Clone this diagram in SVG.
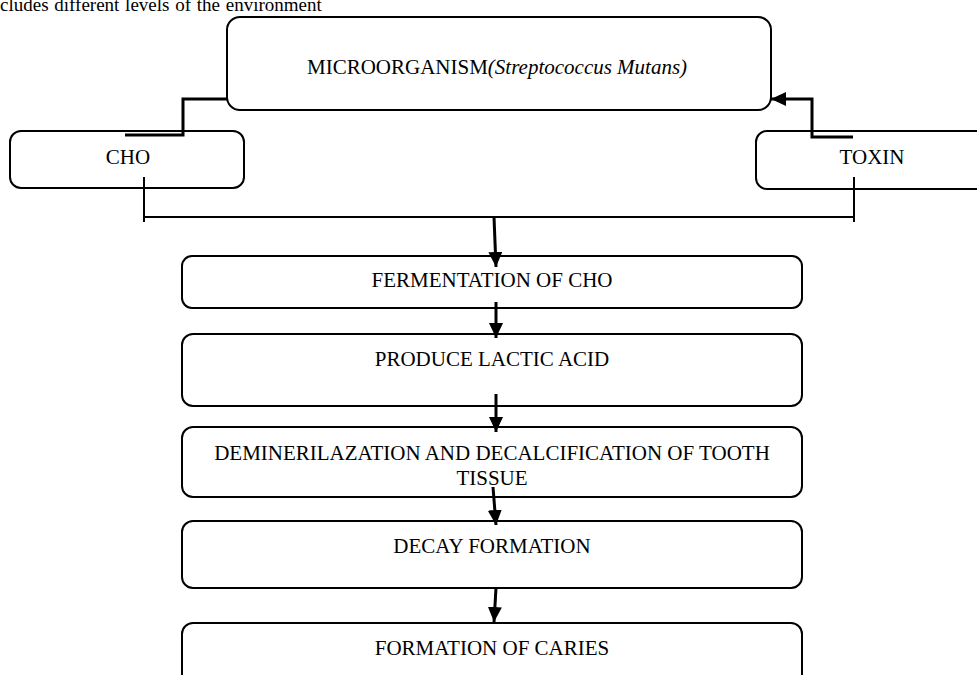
<svg xmlns="http://www.w3.org/2000/svg" width="977" height="675" viewBox="0 0 977 675">
<style>
.box{fill:#fff;stroke:#000;stroke-width:2}
.t{font-family:"Liberation Serif","Times New Roman",serif;font-size:21px;fill:#000;text-anchor:middle}
.body{font-family:"Liberation Serif","Times New Roman",serif;font-size:19px;fill:#000}
.thick{fill:none;stroke:#000;stroke-width:3}
.thin{fill:none;stroke:#000;stroke-width:2}
</style>
<defs>
<marker id="ah" viewBox="0 0 15 14" refX="15" refY="7" markerWidth="15" markerHeight="14" markerUnits="userSpaceOnUse" orient="auto">
<path d="M0,0 L15,7 L0,14 z" fill="#000"/>
</marker>
</defs>
<rect width="977" height="675" fill="#fff"/>
<text class="body" x="0" y="11" word-spacing="1">cludes different levels of the environment</text>
<g id="micro"><rect class="box" x="227" y="17" width="544" height="93" rx="13"/>
<text class="t" x="307" y="74" style="text-anchor:start">MICROORGANISM<tspan font-style="italic">(Streptococcus Mutans)</tspan></text></g>
<g id="cho"><rect class="box" x="10" y="131" width="234" height="57" rx="11"/>
<text class="t" x="128" y="164">CHO</text></g>
<g id="toxin"><rect class="box" x="756" y="131" width="232" height="58" rx="11"/>
<text class="t" x="872" y="164">TOXIN</text></g>
<g id="ferm"><rect class="box" x="182" y="256" width="620" height="52" rx="10"/>
<text class="t" x="492" y="287">FERMENTATION OF CHO</text></g>
<g id="lactic"><rect class="box" x="182" y="334" width="620" height="72" rx="11"/>
<text class="t" x="492" y="366">PRODUCE LACTIC ACID</text></g>
<g id="demin"><rect class="box" x="182" y="427" width="620" height="70" rx="11"/>
<text class="t" x="492" y="460">DEMINERILAZATION AND DECALCIFICATION OF TOOTH</text>
<text class="t" x="492" y="485">TISSUE</text></g>
<g id="decay"><rect class="box" x="182" y="521" width="620" height="67" rx="11"/>
<text class="t" x="492" y="553">DECAY FORMATION</text></g>
<g id="caries"><rect class="box" x="182" y="623" width="620" height="80" rx="11"/>
<text class="t" x="492" y="655">FORMATION OF CARIES</text></g>
<g id="connectors">
<polyline class="thick" points="125,135 183,135 183,99 228,99"/>
<polyline class="thick" points="853,137 812,137 812,99 771,99" marker-end="url(#ah)"/>
<polyline class="thin" points="144,177 144,222"/>
<polyline class="thin" points="854,177 854,222"/>
<polyline class="thin" points="144,217 854,217"/>
<line class="thick" x1="494" y1="217" x2="496" y2="267" marker-end="url(#ah)"/>
<line class="thick" x1="496" y1="302" x2="496" y2="338" marker-end="url(#ah)"/>
<line class="thick" x1="496" y1="394" x2="496" y2="432" marker-end="url(#ah)"/>
<line class="thick" x1="493" y1="487" x2="496" y2="525" marker-end="url(#ah)"/>
<line class="thick" x1="496" y1="588" x2="494" y2="622" marker-end="url(#ah)"/>
</g>
</svg>
